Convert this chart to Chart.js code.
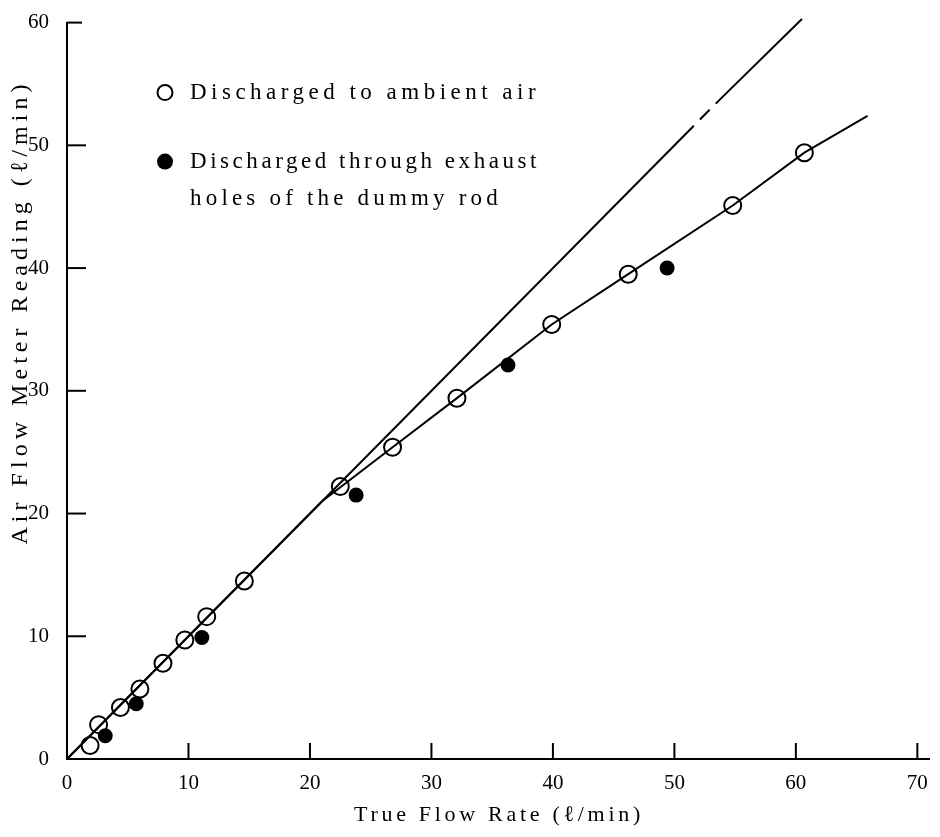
<!DOCTYPE html>
<html>
<head>
<meta charset="utf-8">
<script src="https://cdn.jsdelivr.net/npm/chart.js@4.4.1/dist/chart.umd.min.js"></script>
<style>
  html, body { margin: 0; padding: 0; background: #fff; }
  #wrap { width: 940px; height: 837px; }
</style>
</head>
<body>
<div id="wrap"><canvas id="myChart" width="940" height="837"></canvas></div>
<script>
// open circles: discharged to ambient air
const ambientX = [1.9, 2.6, 4.4, 6.0, 7.9, 9.7, 11.5, 14.6, 22.5, 26.8, 32.1, 39.9, 46.2, 54.8, 60.7];
const ambientY = [1.1, 2.8, 4.2, 5.7, 7.8, 9.7, 11.6, 14.5, 22.2, 25.4, 29.4, 35.4, 39.5, 45.1, 49.4];
// filled circles: discharged through exhaust holes
const exhaustX = [3.15, 5.7, 11.1, 23.8, 36.3, 49.4];
const exhaustY = [1.9, 4.5, 9.9, 21.5, 32.1, 40.0];
// curve drawn through the open circles
const curveX = [0, 21, 26.8, 32.1, 39.9, 46.2, 54.8, 60.7, 65.9];
const curveY = [0, 21, 25.4, 29.4, 35.4, 39.5, 45.1, 49.4, 52.4];
// 1:1 line, with the small breaks seen in the print
const idealX = [0, 51.6, 51.85, 52.1, 52.9, 53.15, 53.4, 60.5];
const idealY = [0, 51.6, null, 52.1, 52.9, null, 53.4, 60.3];

const xTicks = [0, 10, 20, 30, 40, 50, 60, 70];
const yTicks = [0, 10, 20, 30, 40, 50, 60];

const xTitle = 'True Flow Rate (\u2113/min)';
const yTitle = 'Air Flow Meter Reading (\u2113/min)';
const legendLines = ['Discharged to ambient air', 'Discharged through exhaust', 'holes of the dummy rod'];

const pts = (xs, ys) => xs.map((v, i) => ({x: v, y: ys[i]}));

// spread letters so a line of text fills a given width
function spaced(ctx, text, width) {
    ctx.letterSpacing = '0px';
    const w = ctx.measureText(text).width;
    ctx.letterSpacing = ((width - w) / text.length).toFixed(2) + 'px';
}

const annotate = {
    id: 'annotate',
    afterDraw(chart) {
        const {ctx, chartArea, scales: {x, y}} = chart;
        ctx.save();
        ctx.strokeStyle = '#000';
        ctx.lineWidth = 2;
        // tick marks point into the plot
        for (let i = 1; i < yTicks.length; i++) {
            const py = y.getPixelForValue(yTicks[i]);
            ctx.beginPath();
            ctx.moveTo(chartArea.left, py);
            ctx.lineTo(chartArea.left + (i === yTicks.length - 1 ? 15 : 19), py);
            ctx.stroke();
        }
        for (let i = 1; i < xTicks.length; i++) {
            const px = x.getPixelForValue(xTicks[i]);
            ctx.beginPath();
            ctx.moveTo(px, chartArea.bottom);
            ctx.lineTo(px, chartArea.bottom - 16);
            ctx.stroke();
        }

        ctx.fillStyle = '#000';
        ctx.textBaseline = 'middle';

        // axis titles
        ctx.font = '22px "Liberation Serif", serif';
        spaced(ctx, xTitle, 290);
        ctx.textAlign = 'center';
        ctx.fillText(xTitle, 499, 815);

        ctx.save();
        ctx.translate(21, 312);
        ctx.rotate(-Math.PI / 2);
        ctx.font = '24px "Liberation Serif", serif';
        spaced(ctx, yTitle, 465);
        ctx.fillText(yTitle, 0, 0);
        ctx.restore();

        // legend
        ctx.textAlign = 'left';
        ctx.font = '23px "Liberation Serif", serif';
        const lx = 165;
        const rows = [chartArea.top + 70, chartArea.top + 139, chartArea.top + 176];
        const widths = [350, 350, 312];
        ctx.lineWidth = 2;
        ctx.beginPath();
        ctx.arc(lx, rows[0], 7.5, 0, Math.PI * 2);
        ctx.stroke();
        ctx.beginPath();
        ctx.arc(lx, rows[1], 8, 0, Math.PI * 2);
        ctx.fill();
        for (let i = 0; i < legendLines.length; i++) {
            spaced(ctx, legendLines[i], widths[i]);
            ctx.fillText(legendLines[i], lx + 25, rows[i]);
        }
        ctx.restore();
    }
};

const tickFont = {family: '"Liberation Serif", serif', size: 21};

new Chart(document.getElementById('myChart'), {
    type: 'scatter',
    data: {
        datasets: [
            {
                label: '1:1',
                data: pts(idealX, idealY),
                showLine: true,
                borderColor: '#000',
                borderWidth: 2,
                pointRadius: 0,
                spanGaps: false,
                clip: 10
            },
            {
                label: 'curve',
                data: pts(curveX, curveY),
                showLine: true,
                borderColor: '#000',
                borderWidth: 2,
                pointRadius: 0
            },
            {
                label: legendLines[0],
                data: pts(ambientX, ambientY),
                pointRadius: 8.5,
                pointBorderWidth: 2,
                borderColor: '#000',
                backgroundColor: 'rgba(0,0,0,0)'
            },
            {
                label: legendLines[1],
                data: pts(exhaustX, exhaustY),
                pointRadius: 7.5,
                borderWidth: 0,
                borderColor: '#000',
                backgroundColor: '#000'
            }
        ]
    },
    options: {
        responsive: false,
        animation: false,
        devicePixelRatio: 1,
        layout: {padding: {left: 8, top: 21, right: -3, bottom: 10}},
        plugins: {
            legend: {display: false},
            tooltip: {enabled: false}
        },
        scales: {
            x: {
                type: 'linear',
                min: 0,
                max: 71,
                afterBuildTicks: (s) => { s.ticks = xTicks.map(v => ({value: v})); },
                afterFit: (s) => { s.height = 68; },
                grid: {display: false},
                border: {display: true, color: '#000', width: 2},
                ticks: {color: '#000', font: tickFont, padding: 4, maxRotation: 0}
            },
            y: {
                type: 'linear',
                min: 0,
                max: 60,
                afterBuildTicks: (s) => { s.ticks = yTicks.map(v => ({value: v})); },
                afterFit: (s) => { s.width = 59; },
                grid: {display: false},
                border: {display: true, color: '#000', width: 2},
                ticks: {color: '#000', font: tickFont, padding: 10}
            }
        }
    },
    plugins: [annotate]
});
</script>
</body>
</html>
